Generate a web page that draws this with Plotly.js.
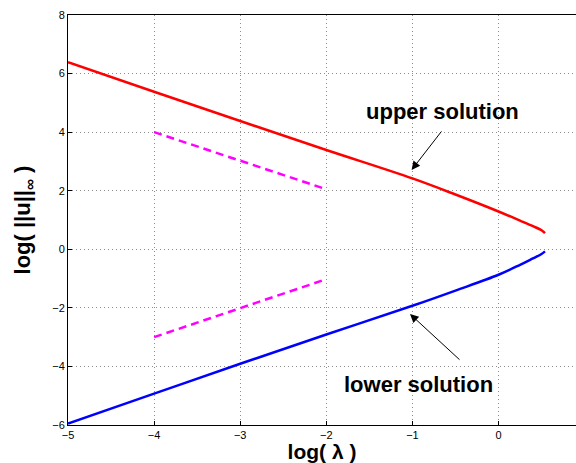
<!DOCTYPE html>
<html>
<head>
<meta charset="utf-8">
<script src="https://cdn.plot.ly/plotly-3.0.1.min.js"></script>
<style>html,body{margin:0;padding:0;background:#fff;}#chart{width:576px;height:463px;}</style>
</head>
<body>
<div id="chart"></div>
<script>
// upper solution branch
const upperX = [-5, -4, -3, -2, -1, -0.5, 0, 0.25, 0.4, 0.5, 0.54];
const upperY = [6.39, 5.38, 4.38, 3.39, 2.42, 1.87, 1.29, 0.98, 0.79, 0.65, 0.55];
// lower solution branch
const lowerX = [-5, -4, -3, -2, -1, -0.5, 0, 0.25, 0.4, 0.5, 0.54];
const lowerY = [-5.95, -4.93, -3.91, -2.91, -1.93, -1.41, -0.87, -0.53, -0.31, -0.16, -0.07];
// reference slopes (dashed)
const refUpX = [-4, -2];
const refUpY = [4.0, 2.05];
const refLowX = [-4, -2];
const refLowY = [-3.0, -1.02];

const xTicks = [-5, -4, -3, -2, -1, 0];
const yTicks = [-6, -4, -2, 0, 2, 4, 6, 8];

const traces = [
  {x: upperX, y: upperY, mode: 'lines', line: {color: '#ff0000', width: 2.5, shape: 'spline', smoothing: 1}, hoverinfo: 'skip'},
  {x: lowerX, y: lowerY, mode: 'lines', line: {color: '#0000ff', width: 2.5, shape: 'spline', smoothing: 1}, hoverinfo: 'skip'},
  {x: refUpX, y: refUpY, mode: 'lines', line: {color: '#ff00ff', width: 2.5, dash: '8px,5px'}, hoverinfo: 'skip'},
  {x: refLowX, y: refLowY, mode: 'lines', line: {color: '#ff00ff', width: 2.5, dash: '8px,5px'}, hoverinfo: 'skip'}
];

const FONT = 'Liberation Sans, Arial, Helvetica, sans-serif';

const axisCommon = {
  showline: true, linecolor: '#000', linewidth: 1, mirror: true,
  ticks: 'inside', ticklen: 4, tickcolor: '#000',
  showgrid: true, gridcolor: '#8c8c8c', griddash: '1px,3px', gridwidth: 1,
  zeroline: false,
  tickfont: {family: FONT, size: 11, color: '#000'}
};

const layout = {
  width: 576, height: 463,
  margin: {l: 68, r: 0, t: 15, b: 38},
  paper_bgcolor: '#fff', plot_bgcolor: '#fff',
  showlegend: false,
  font: {family: FONT},
  xaxis: Object.assign({}, axisCommon, {
    range: [-5, 0.9], tickvals: xTicks, ticktext: xTicks.map(v => v < 0 ? '\u2212' + Math.abs(v) : String(v)),
    title: {text: '<b>log( λ )</b>', font: {family: FONT, size: 21, color: '#000'}, standoff: 6}
  }),
  yaxis: Object.assign({}, axisCommon, {
    range: [-6, 8], tickvals: yTicks, ticktext: yTicks.map(v => v < 0 ? '\u2212' + Math.abs(v) : String(v)),
    title: {text: '<b>log( ||u||<sub>∞</sub> )</b>', font: {family: FONT, size: 22, color: '#000'}, standoff: 15}
  }),
  annotations: [
    {x: -0.656, y: 4.70, xref: 'x', yref: 'y', text: '<b>upper solution</b>', showarrow: false,
     font: {family: FONT, size: 22, color: '#000'}},
    {x: -0.935, y: -4.63, xref: 'x', yref: 'y', text: '<b>lower solution</b>', showarrow: false,
     font: {family: FONT, size: 22, color: '#000'}},
    {x: -1.009, y: 2.71, xref: 'x', yref: 'y', text: '', showarrow: true, ax: 31, ay: -40,
     arrowhead: 2, arrowsize: 1.7, arrowwidth: 1, arrowcolor: '#000'},
    {x: -1.028, y: -2.21, xref: 'x', yref: 'y', text: '', showarrow: true, ax: 51, ay: 47,
     arrowhead: 2, arrowsize: 1.7, arrowwidth: 1, arrowcolor: '#000'}
  ]
};

Plotly.newPlot('chart', traces, layout, {displayModeBar: false, staticPlot: true});
</script>
</body>
</html>
